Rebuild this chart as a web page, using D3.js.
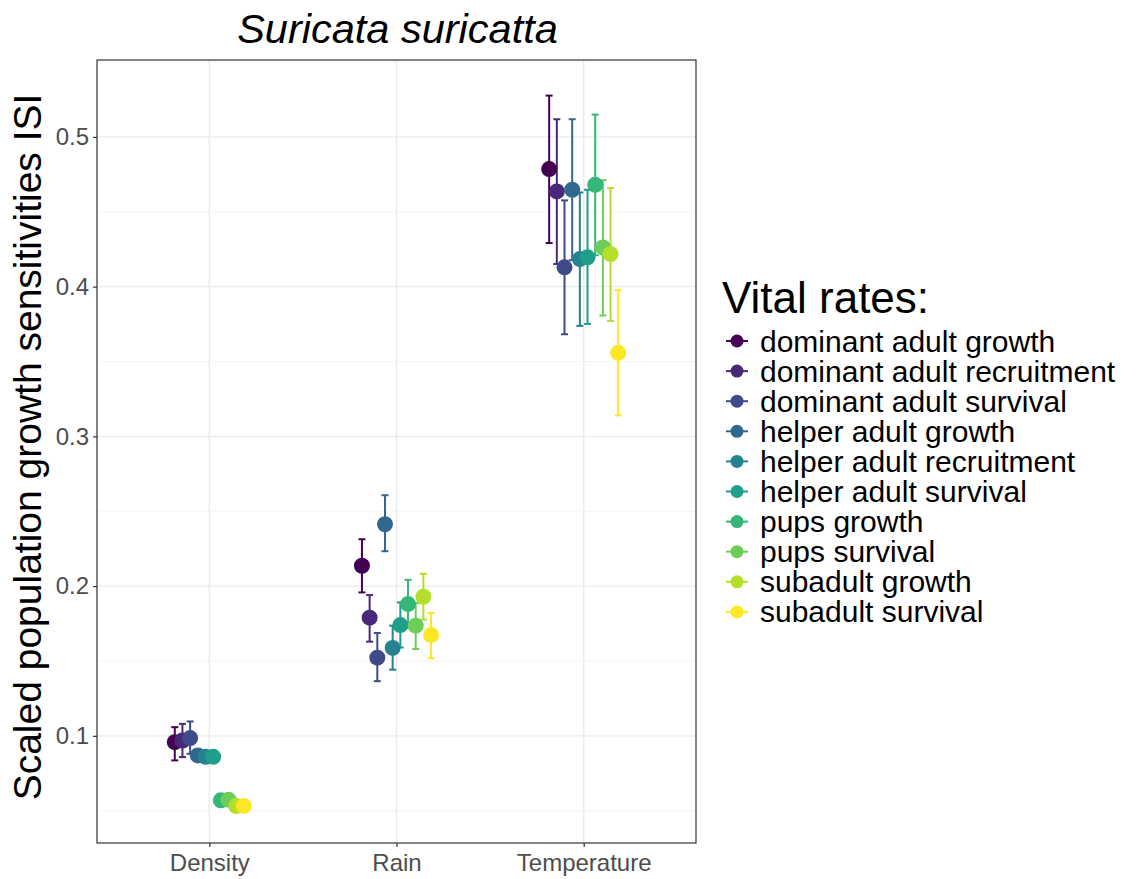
<!DOCTYPE html>
<html>
<head>
<meta charset="utf-8">
<script src="https://cdn.jsdelivr.net/npm/d3@7"></script>
<style>
  body { margin: 0; background: #fff; }
  text { font-family: "Liberation Sans", Arial, Helvetica, sans-serif; }
</style>
</head>
<body>
<svg id="chart" width="1146" height="879"></svg>
<script>
// Environmental drivers on the x axis
const drivers = ["Density", "Rain", "Temperature"];

// Vital rates (legend order, dodge order)
const vitalRates = [
  "dominant adult growth",
  "dominant adult recruitment",
  "dominant adult survival",
  "helper adult growth",
  "helper adult recruitment",
  "helper adult survival",
  "pups growth",
  "pups survival",
  "subadult growth",
  "subadult survival"
];

// viridis palette, one colour per vital rate
const rateColors = ["#440154", "#482878", "#3E4A89", "#31688E", "#26828E",
                    "#1F9E89", "#35B779", "#6DCD59", "#B4DE2C", "#FDE725"];

// Scaled sensitivities |S| per vital rate: mean and interval bounds
const densityMean  = [0.0958, 0.0969, 0.0985, 0.0869, 0.0860, 0.0860, 0.0569, 0.0573, 0.0531, 0.0532];
const densityLower = [0.0836, 0.0858, 0.0880, 0.0849, 0.0842, 0.0843, 0.0555, 0.0560, 0.0522, 0.0529];
const densityUpper = [0.1058, 0.1080, 0.1096, 0.0889, 0.0878, 0.0877, 0.0583, 0.0586, 0.0540, 0.0535];

const rainMean  = [0.2136, 0.1789, 0.1522, 0.2413, 0.1587, 0.1740, 0.1880, 0.1736, 0.1929, 0.1673];
const rainLower = [0.1958, 0.1629, 0.1365, 0.2233, 0.1442, 0.1590, 0.1720, 0.1580, 0.1776, 0.1518];
const rainUpper = [0.2313, 0.1940, 0.1687, 0.2607, 0.1736, 0.1891, 0.2042, 0.1887, 0.2082, 0.1820];

const tempMean  = [0.4785, 0.4636, 0.4129, 0.4647, 0.4184, 0.4196, 0.4680, 0.4262, 0.4218, 0.3558];
const tempLower = [0.4291, 0.4151, 0.3682, 0.4177, 0.3738, 0.3751, 0.4210, 0.3807, 0.3771, 0.3140];
const tempUpper = [0.5276, 0.5118, 0.4576, 0.5118, 0.4629, 0.4647, 0.5149, 0.4711, 0.4658, 0.3976];

const yTicks = [0.1, 0.2, 0.3, 0.4, 0.5];
const yMinorTicks = [0.05, 0.15, 0.25, 0.35, 0.45, 0.55];

// Long table built from the arrays above
const byDriver = {
  Density: [densityMean, densityLower, densityUpper],
  Rain: [rainMean, rainLower, rainUpper],
  Temperature: [tempMean, tempLower, tempUpper]
};
const rows = [];
drivers.forEach(d => {
  const [m, lo, hi] = byDriver[d];
  vitalRates.forEach((r, i) => rows.push({ driver: d, rate: r, idx: i, mean: m[i], lower: lo[i], upper: hi[i] }));
});

const svg = d3.select("#chart");
const panel = { left: 97, right: 696, top: 60, bottom: 843 };

// y: continuous with 5% expansion of the data range
const yMin = d3.min(rows, d => d.lower), yMax = d3.max(rows, d => d.upper);
const pad = (yMax - yMin) * 0.05;
const y = d3.scaleLinear().domain([yMin - pad, yMax + pad]).range([panel.bottom, panel.top]);

// x: discrete drivers with 0.6 unit padding each side
const x = d3.scalePoint().domain(drivers).range([panel.left, panel.right]).padding(0.6);
const unit = x.step();
const dodgeWidth = 0.41 * unit;
const dodge = d3.scaleBand().domain(vitalRates).range([-dodgeWidth / 2, dodgeWidth / 2]);
const xPos = d => x(d.driver) + dodge(d.rate) + dodge.bandwidth() / 2;

const color = d3.scaleOrdinal().domain(vitalRates).range(rateColors);

// Panel grid
const grid = svg.append("g");
grid.selectAll("line.minor").data(yMinorTicks.filter(v => y(v) > panel.top && y(v) < panel.bottom))
  .join("line").attr("x1", panel.left).attr("x2", panel.right)
  .attr("y1", d => y(d)).attr("y2", d => y(d))
  .attr("stroke", "#f2f2f2").attr("stroke-width", 0.8);
grid.selectAll("line.major").data(yTicks)
  .join("line").attr("x1", panel.left).attr("x2", panel.right)
  .attr("y1", d => y(d)).attr("y2", d => y(d))
  .attr("stroke", "#ebebeb").attr("stroke-width", 1.4);
grid.selectAll("line.vert").data(drivers)
  .join("line").attr("y1", panel.top).attr("y2", panel.bottom)
  .attr("x1", d => x(d)).attr("x2", d => x(d))
  .attr("stroke", "#ebebeb").attr("stroke-width", 1.4);

// Axes
const yAxis = svg.append("g").attr("transform", `translate(${panel.left},0)`)
  .call(d3.axisLeft(y).tickValues(yTicks).tickFormat(d3.format(".1f")).tickSize(4).tickPadding(4));
const xAxis = svg.append("g").attr("transform", `translate(0,${panel.bottom})`)
  .call(d3.axisBottom(x).tickSize(4).tickPadding(4));
[yAxis, xAxis].forEach(a => {
  a.select(".domain").remove();
  a.selectAll(".tick line").attr("stroke", "#333").attr("stroke-width", 1.2);
  a.selectAll(".tick text").attr("fill", "#4d4d4d").style("font-size", "24px")
    .style("font-family", "'Liberation Sans', Arial, sans-serif");
});
xAxis.selectAll(".tick text").attr("dy", "0.85em");

// Error bars
const capHalf = 3.5;
const bars = svg.append("g").selectAll("g").data(rows).join("g")
  .attr("stroke", d => color(d.rate)).attr("stroke-width", 2);
bars.append("line").attr("x1", xPos).attr("x2", xPos)
  .attr("y1", d => y(d.lower)).attr("y2", d => y(d.upper));
bars.append("line").attr("x1", d => xPos(d) - capHalf).attr("x2", d => xPos(d) + capHalf)
  .attr("y1", d => y(d.upper)).attr("y2", d => y(d.upper));
bars.append("line").attr("x1", d => xPos(d) - capHalf).attr("x2", d => xPos(d) + capHalf)
  .attr("y1", d => y(d.lower)).attr("y2", d => y(d.lower));

// Points
svg.append("g").selectAll("circle").data(rows).join("circle")
  .attr("cx", xPos).attr("cy", d => y(d.mean)).attr("r", 8)
  .attr("fill", d => color(d.rate));

// Panel border
svg.append("rect").attr("x", panel.left).attr("y", panel.top)
  .attr("width", panel.right - panel.left).attr("height", panel.bottom - panel.top)
  .attr("fill", "none").attr("stroke", "#333").attr("stroke-width", 1.2);

// Title
svg.append("text").attr("x", (panel.left + panel.right) / 2 + 1).attr("y", 43)
  .attr("text-anchor", "middle").style("font-size", "41.5px").style("font-style", "italic")
  .attr("fill", "#000").text("Suricata suricatta");

// Y axis title
svg.append("text")
  .attr("transform", `translate(41,447) rotate(-90)`)
  .attr("text-anchor", "middle").style("font-size", "39px").attr("fill", "#000")
  .text("Scaled population growth sensitivities ISI");

// Legend
const legend = svg.append("g").attr("transform", "translate(722,0)");
legend.append("text").attr("x", 0).attr("y", 313).style("font-size", "44px").attr("fill", "#000")
  .text("Vital rates:");
const items = legend.selectAll("g.item").data(vitalRates).join("g")
  .attr("transform", (d, i) => `translate(0,${341 + i * 30.1})`);
items.append("line").attr("x1", 4).attr("x2", 26).attr("y1", 0).attr("y2", 0)
  .attr("stroke", d => color(d)).attr("stroke-width", 2);
items.append("circle").attr("cx", 15).attr("cy", 0).attr("r", 6.5).attr("fill", d => color(d));
items.append("text").attr("x", 38).attr("y", 0).attr("dy", "0.35em")
  .style("font-size", "30px").attr("fill", "#000").text(d => d);
</script>
</body>
</html>
